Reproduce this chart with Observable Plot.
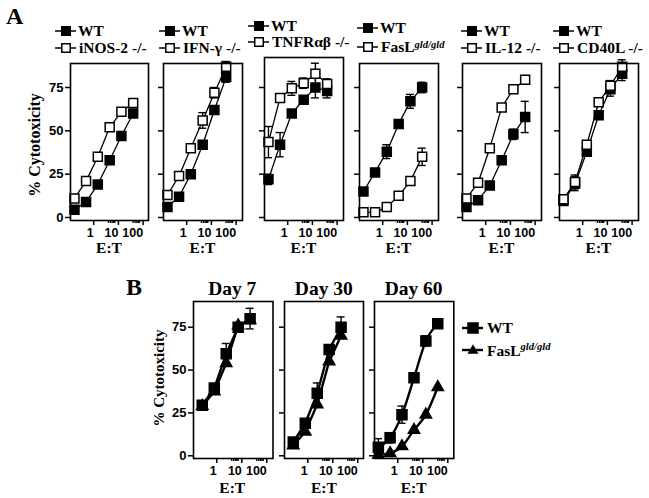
<!DOCTYPE html>
<html><head><meta charset="utf-8">
<script src="https://cdn.jsdelivr.net/npm/d3@7"></script>
<script src="https://cdn.jsdelivr.net/npm/@observablehq/plot@0.6"></script>
<style>
body{margin:0;background:#fff;}
#fig{position:relative;width:649px;height:498px;background:#fff;overflow:hidden;}
#fig > svg{position:absolute;}
#fig > svg.overlay text{font-family:"Liberation Serif","Times New Roman","DejaVu Serif",serif;font-weight:bold;}
</style></head><body><div id="fig"></div>
<script>
// ---------- DATA ----------
// E:T ratios
const etA = [0.21, 0.62, 1.85, 5.6, 16.7, 50];
const etB = [0.33, 1, 3, 9, 27];
const etB60 = [0.21, 0.62, 1.85, 5.6, 16.7, 50];
const xTicks = [1, 10, 100];
const xMinor = [5, 6, 7, 8, 9, 50, 60, 70, 80, 90];
const yTicks = [0, 25, 50, 75];

// Panel A knockouts
const koNames = ["iNOS-2 -/-", "IFN-γ -/-", "TNFRαβ -/-", "FasL", "IL-12 -/-", "CD40L -/-"];
const wtINOS = [4.5, 9, 19, 33, 47, 60];
const koINOS = [11, 21, 35, 52, 61, 66];
const wtINOSerr = [0, 0, 0, 0, 0, 0];
const koINOSerr = [0, 0, 0, 0, 0, 0];

const wtIFN = [6, 12, 25, 42, 62, 81];
const koIFN = [13, 24, 40, 56, 72, 87];
const wtIFNerr = [0, 0, 0, 0, 0, 3];
const koIFNerr = [0, 0, 0, 4.5, 3, 3];

const wtTNFR = [22, 42, 60, 68, 75, 73];
const koTNFR = [43.5, 69, 74.5, 77.5, 83, 77];
const wtTNFRerr = [3, 7, 0, 0, 6, 4];
const koTNFRerr = [9, 0, 4, 3, 6, 3];

const wtFASL = [15, 26, 38, 54, 67, 75];
const koFASL = [3, 3, 6, 12.5, 21, 35];
const wtFASLerr = [0, 0, 4, 0, 4, 3];
const koFASLerr = [0, 0, 0, 0, 0, 5];

const wtIL12 = [6, 10, 18.5, 33, 48, 58];
const koIL12 = [11, 20, 40, 63.5, 74, 79.5];
const wtIL12err = [0, 0, 0, 0, 3, 9];
const koIL12err = [0, 0, 0, 0, 0, 0];

const wtCD40L = [9.5, 19.5, 38, 59, 74, 83];
const koCD40L = [10.5, 20.5, 42, 66.5, 76, 87];
const wtCD40Lerr = [0, 4, 0, 0, 4, 4];
const koCD40Lerr = [0, 4, 0, 0, 3, 4];

// Panel B time course: WT vs FasL gld/gld
const dayTitles = ["Day 7", "Day 30", "Day 60"];
const wtDay7 = [29.5, 39.5, 59.5, 75, 80];
const gldDay7 = [29, 37.5, 54, 76, 79];
const wtDay7err = [0, 0, 6, 0, 6];
const wtDay30 = [8, 19, 36.5, 62, 75];
const gldDay30 = [6, 14, 30, 55, 70];
const wtDay30err = [0, 0, 6, 0, 6];
const wtDay60 = [5, 10.5, 24, 45.5, 67, 77];
const gldDay60 = [0.5, 1.5, 5.5, 15, 24, 40];
const wtDay60err = [5, 3, 5, 0, 3, 0];

// ---------- LAYOUT ----------
const fig = document.getElementById("fig");
const ML = 34, MR = 6, MT = 6, MB = 24;
const SANS = "'Liberation Sans', Arial, sans-serif";

function rows(xs, ys, es) {
  return xs.map((x, i) => ({x, y: ys[i], e: es ? es[i] : 0}));
}

function panel(cfg) {
  const w = cfg.right - cfg.left, h = cfg.bottom - cfg.top;
  const k = cfg.k, y0 = cfg.y0px;
  const ydom = [(y0 - cfg.bottom) / k, (y0 - cfg.top) / k];
  const xdom = [Math.pow(10, -cfg.one / cfg.dec), Math.pow(10, (w - cfg.one) / cfg.dec)];
  const capF = Math.pow(10, 4 / cfg.dec);
  const marks = [
    Plot.axisX({ticks: xMinor, tickSize: 3, tickFormat: () => "", strokeWidth: 1.3, label: null}),
    Plot.axisX({ticks: xTicks, tickSize: 5, tickPadding: 3, tickFormat: d => String(d), textAnchor: "end", dx: 2.5,
      fontSize: 12.5, fontWeight: "bold", fontFamily: SANS, strokeWidth: 1.5, label: null}),
    Plot.axisY({ticks: yTicks, tickSize: 5, tickPadding: 2, tickFormat: cfg.yLabels ? d => String(d) : () => "",
      fontSize: 13, fontWeight: "bold", fontFamily: SANS, strokeWidth: 1.5, label: null})
  ];
  for (const s of cfg.series) {
    marks.push(Plot.line(s.data, {x: "x", y: "y", stroke: "black", strokeWidth: cfg.lw, curve: s.curve || "linear"}));
  }
  for (const s of cfg.series) {
    const ed = s.data.filter(d => d.e > 0);
    marks.push(Plot.ruleX(ed, {x: "x", y1: d => d.y - d.e, y2: d => d.y + d.e, stroke: "black", strokeWidth: 1.4}));
    marks.push(Plot.ruleY(ed, {y: d => d.y + d.e, x1: d => d.x / capF, x2: d => d.x * capF, stroke: "black", strokeWidth: 1.4}));
    marks.push(Plot.ruleY(ed, {y: d => d.y - d.e, x1: d => d.x / capF, x2: d => d.x * capF, stroke: "black", strokeWidth: 1.4}));
  }
  for (const s of cfg.series) {
    marks.push(Plot.dot(s.data, {x: "x", y: "y", symbol: s.symbol, r: s.r, fill: s.fill, stroke: "black", strokeWidth: 1.5}));
  }
  marks.push(Plot.frame({stroke: "black", strokeWidth: 1.6}));
  const svg = Plot.plot({
    width: w + ML + MR, height: h + MT + MB,
    marginLeft: ML, marginRight: MR, marginTop: MT, marginBottom: MB,
    x: {type: "log", domain: xdom},
    y: {domain: ydom},
    style: {background: "transparent", color: "black", fontFamily: SANS},
    marks
  });
  svg.style.left = (cfg.left - ML) + "px";
  svg.style.top = (cfg.top - MT) + "px";
  fig.appendChild(svg);
}

const A = {bottom: 220, y0px: 217, k: 130 / 75, one: 20.7, dec: 24.7, lw: 1.3};
const framesA = [
  {left: 70, right: 148, top: 63},
  {left: 163, right: 242, top: 63},
  {left: 264, right: 343, top: 57},
  {left: 359, right: 438, top: 63},
  {left: 462, right: 541, top: 63},
  {left: 559, right: 638, top: 63}
];
const seriesA = [
  [wtINOS, koINOS, wtINOSerr, koINOSerr],
  [wtIFN, koIFN, wtIFNerr, koIFNerr],
  [wtTNFR, koTNFR, wtTNFRerr, koTNFRerr],
  [wtFASL, koFASL, wtFASLerr, koFASLerr],
  [wtIL12, koIL12, wtIL12err, koIL12err],
  [wtCD40L, koCD40L, wtCD40Lerr, koCD40Lerr]
];
const rA = 9 / Math.sqrt(Math.PI);
framesA.forEach((f, i) => {
  const [wt, ko, we, ke] = seriesA[i];
  panel({...A, ...f, yLabels: i === 0, series: [
    {data: rows(etA, wt, we), symbol: "square", r: rA, fill: "black"},
    {data: rows(etA, ko, ke), symbol: "square", r: rA, fill: "white"}
  ]});
});

const B = {top: 301, bottom: 458, y0px: 455.3, k: 128.6 / 75, one: 20.8, dec: 25, lw: 2.4};
const framesB = [
  {left: 192.5, right: 272},
  {left: 284.3, right: 363.3},
  {left: 374, right: 453.3}
];
const rB = 10 / Math.sqrt(Math.PI);
const rT = 4.2;
panel({...B, ...framesB[0], yLabels: true, series: [
  {data: rows(etB, wtDay7, wtDay7err), symbol: "square", r: rB, fill: "black"},
  {data: rows(etB, gldDay7), symbol: "triangle", r: rT, fill: "black"}
]});
panel({...B, ...framesB[1], yLabels: false, series: [
  {data: rows(etB, wtDay30, wtDay30err), symbol: "square", r: rB, fill: "black"},
  {data: rows(etB, gldDay30), symbol: "triangle", r: rT, fill: "black"}
]});
panel({...B, ...framesB[2], yLabels: false, series: [
  {data: rows(etB60, wtDay60, wtDay60err), symbol: "square", r: rB, fill: "black", curve: "monotone-x"},
  {data: rows(etB60, gldDay60), symbol: "triangle", r: rT, fill: "black", curve: "monotone-x"}
]});

// ---------- TEXT & LEGENDS (overlay) ----------
const NS = "http://www.w3.org/2000/svg";
const ov = document.createElementNS(NS, "svg");
ov.setAttribute("width", 649); ov.setAttribute("height", 498);
ov.setAttribute("class", "overlay");
ov.style.left = "0px"; ov.style.top = "0px";
fig.appendChild(ov);
function el(tag, attrs, parent = ov) {
  const e = document.createElementNS(NS, tag);
  for (const a in attrs) e.setAttribute(a, attrs[a]);
  parent.appendChild(e);
  return e;
}
function text(str, x, y, size, anchor = "start", extra = {}) {
  const t = el("text", {x, y, "font-size": size, "text-anchor": anchor, ...extra});
  t.textContent = str;
  return t;
}
function fasl(x, y, size, raise) {
  const t = el("text", {x, y, "font-size": size});
  const a = el("tspan", {}, t); a.textContent = "FasL";
  const b = el("tspan", {"font-size": size * 0.68, "font-style": "italic", dy: -raise}, t);
  b.textContent = "gld/gld";
}
function glyph(L, cy, kind, lw, side) {
  el("line", {x1: L, x2: L + 21, y1: cy, y2: cy, stroke: "black", "stroke-width": lw});
  const cx = L + 11;
  if (kind === "tri") {
    const s = side, hgt = s * Math.sqrt(3) / 2;
    el("path", {d: `M${cx},${cy - hgt * 0.6}L${cx + s / 2},${cy + hgt * 0.4}L${cx - s / 2},${cy + hgt * 0.4}Z`, fill: "black"});
  } else {
    el("rect", {x: cx - side / 2, y: cy - side / 2, width: side, height: side,
      fill: kind === "open" ? "white" : "black", stroke: "black", "stroke-width": 1.5});
  }
}

text("A", 6, 24, 24);
text("B", 126, 295, 24);

// Panel A legends
const legL = [55, 159, 248, 357, 461, 553];
const legBase = [[36, 53], [36, 53], [31, 47], [33, 52], [36, 53], [36, 53]];
legL.forEach((L, i) => {
  const [b1, b2] = legBase[i];
  glyph(L, b1 - 5, "filled", 1.5, 8.5);
  text("WT", L + 23, b1, 15.5);
  glyph(L, b2 - 5, "open", 1.5, 8.5);
  if (i === 3) fasl(L + 24, b2, 15.5, 4.5);
  else text(koNames[i], L + 24, b2, 15.5);
});

// Axis titles panel A
framesA.forEach(f => text("E:T", (f.left + f.right) / 2, 253, 15.5, "middle"));
text("% Cytotoxicity", 0, 0, 16, "middle", {transform: "translate(40,145) rotate(-90)"});

// Panel B titles, axis titles, legend
framesB.forEach((f, i) => {
  text(dayTitles[i], (f.left + f.right) / 2, 295, 19.5, "middle");
  text("E:T", (f.left + f.right) / 2, 493, 15.5, "middle");
});
text("% Cytotoxicity", 0, 0, 15, "middle", {transform: "translate(164,378) rotate(-90)"});
glyph(462, 328, "filled", 2.4, 10);
text("WT", 487, 333, 15.5);
glyph(462, 350, "tri", 2.4, 11);
fasl(487, 356, 15.5, 6);
</script></body></html>
